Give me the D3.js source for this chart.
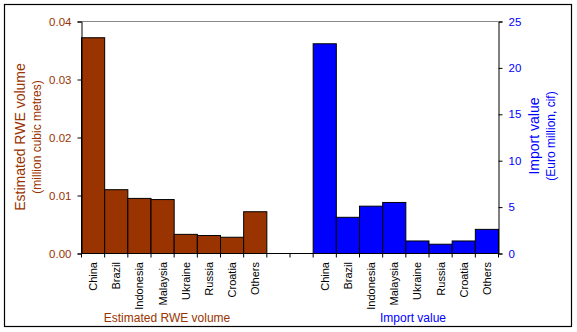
<!DOCTYPE html>
<html><head><meta charset="utf-8">
<script src="https://cdn.jsdelivr.net/npm/d3@7"></script>
<style>body{margin:0;background:#fff;font-family:"Liberation Sans",Arial,sans-serif;}</style>
</head><body>
<svg id="c" width="577" height="332"></svg>
<script>
const countries = ["China","Brazil","Indonesia","Malaysia","Ukraine","Russia","Croatia","Others"];
const rweVolume = [0.0372,0.0110,0.0095,0.0093,0.0033,0.0031,0.0028,0.0072];
const importValue = [22.6,3.9,5.1,5.5,1.35,1.0,1.35,2.6];
const leftTicks = [0,0.01,0.02,0.03,0.04];
const rightTicks = [0,5,10,15,20,25];
const groupLabels = ["Estimated RWE volume","Import value"];

const brown = "#993300", blue = "#0000ff";
const svg = d3.select("#c");
svg.append("rect").attr("x",4.5).attr("y",4.5).attr("width",567).attr("height",322)
  .attr("fill","none").attr("stroke","#000").attr("stroke-width",1.2);

const L = 81.5, R = 498.5, T = 21.5, B = 253.5;
const slots = countries.map((c,i)=>"a"+i).concat(["g1","g2"], countries.map((c,i)=>"b"+i));
const x = d3.scaleBand().domain(slots).range([L,R]).padding(0);
const yL = d3.scaleLinear().domain([0,0.04]).range([B,T]);
const yR = d3.scaleLinear().domain([0,25]).range([B,T]);

// top border of plot
svg.append("line").attr("x1",L).attr("x2",R).attr("y1",T).attr("y2",T).attr("stroke","#888").attr("stroke-width",1);

// bars
svg.append("g").selectAll("rect").data(rweVolume).join("rect")
  .attr("x",(d,i)=>x("a"+i)).attr("width",x.bandwidth())
  .attr("y",d=>yL(d)).attr("height",d=>B-yL(d))
  .attr("fill",brown).attr("stroke","#000").attr("stroke-width",1);
svg.append("g").selectAll("rect").data(importValue).join("rect")
  .attr("x",(d,i)=>x("b"+i)).attr("width",x.bandwidth())
  .attr("y",d=>yR(d)).attr("height",d=>B-yR(d))
  .attr("fill",blue).attr("stroke","#000").attr("stroke-width",1);

// left axis
const gl = svg.append("g").attr("transform",`translate(${L},0)`)
  .call(d3.axisLeft(yL).tickValues(leftTicks).tickFormat(d3.format(".2f")).tickSize(4).tickPadding(6));
gl.select(".domain").attr("stroke","#000");
gl.selectAll("text").attr("fill",brown).style("font-size","11.5px").style("font-family","Liberation Sans, Arial");

// right axis
const gr = svg.append("g").attr("transform",`translate(${R},0)`)
  .call(d3.axisRight(yR).tickValues(rightTicks).tickSize(4).tickPadding(6));
gr.selectAll("text").attr("fill",blue).style("font-size","11.5px").style("font-family","Liberation Sans, Arial");

// bottom axis: ticks at band boundaries
svg.append("line").attr("x1",L).attr("x2",R).attr("y1",B).attr("y2",B).attr("stroke","#000");
const bounds = slots.map(s=>x(s)).concat([R]);
svg.append("g").selectAll("line").data(bounds).join("line")
  .attr("x1",d=>d).attr("x2",d=>d).attr("y1",B).attr("y2",B+4).attr("stroke","#000");

// category labels
const lab = svg.append("g").style("font-size","11px").style("font-family","Liberation Sans, Arial");
countries.forEach((c,i)=>{
  ["a","b"].forEach(p=>{
    const cx = x(p+i)+x.bandwidth()/2;
    lab.append("text").attr("transform",`translate(${cx+4},262) rotate(-90)`)
      .attr("text-anchor","end").text(c);
  });
});

// group labels
svg.append("text").attr("x",167).attr("y",322).attr("text-anchor","middle").attr("fill",brown)
  .style("font-size","12px").text(groupLabels[0]);
svg.append("text").attr("x",413).attr("y",322).attr("text-anchor","middle").attr("fill",blue)
  .style("font-size","12px").text(groupLabels[1]);

// axis titles
svg.append("text").attr("transform","translate(25,137) rotate(-90)").attr("text-anchor","middle")
  .attr("fill",brown).style("font-size","14px").text("Estimated RWE volume");
svg.append("text").attr("transform","translate(41,137) rotate(-90)").attr("text-anchor","middle")
  .attr("fill",brown).style("font-size","12px").text("(million cubic metres)");
svg.append("text").attr("transform","translate(539,136) rotate(-90)").attr("text-anchor","middle")
  .attr("fill",blue).style("font-size","14px").text("Import value");
svg.append("text").attr("transform","translate(555,136) rotate(-90)").attr("text-anchor","middle")
  .attr("fill",blue).style("font-size","12px").text("(Euro million, cif)");
</script>
</body></html>
